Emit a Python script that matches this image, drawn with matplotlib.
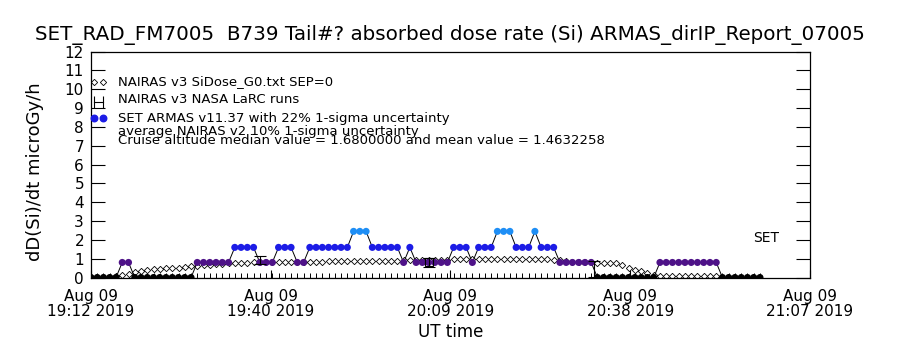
#!/usr/bin/env python3
"""ARMAS vs NAIRAS absorbed dose rate (Si) along a B739 flight, 9 Aug 2019."""

import numpy as np
import pandas as pd
import matplotlib
matplotlib.use("Agg")  # headless
import matplotlib.pyplot as plt

# ---- data --------------------------------------------------------------
start = "2019-08-09 19:12"

# SET ARMAS 1-min dose rate, microGy/h
armas_dose = [
    0.0, 0.0, 0.0, 0.0, 0.0, 0.8, 0.8, 0.0, 0.0, 0.0,
    0.0, 0.0, 0.0, 0.0, 0.0, 0.0, 0.0, 0.8, 0.8, 0.8,
    0.8, 0.8, 0.8, 1.6, 1.6, 1.6, 1.6, 0.8, 0.8, 0.8,
    1.6, 1.6, 1.6, 0.8, 0.8, 1.6, 1.6, 1.6, 1.6, 1.6,
    1.6, 1.6, 2.45, 2.45, 2.45, 1.6, 1.6, 1.6, 1.6, 1.6,
    0.8, 1.6, 0.8, 0.8, 0.8, 0.8, 0.8, 0.8, 1.6, 1.6,
    1.6, 0.8, 1.6, 1.6, 1.6, 2.45, 2.45, 2.45, 1.6, 1.6,
    1.6, 2.45, 1.6, 1.6, 1.6, 0.8, 0.8, 0.8, 0.8, 0.8,
    0.8, 0.0, 0.0, 0.0, 0.0, 0.0, 0.0, 0.0, 0.0, 0.0,
    0.0, 0.8, 0.8, 0.8, 0.8, 0.8, 0.8, 0.8, 0.8, 0.8,
    0.8, 0.0, 0.0, 0.0, 0.0, 0.0, 0.0, 0.0,
]

# NAIRAS v3 SiDose_G0 model, same 1-min cadence
nairas_dose = [
    0.02, 0.02, 0.03, 0.05, 0.07, 0.12, 0.20, 0.28, 0.36, 0.42,
    0.45, 0.47, 0.49, 0.51, 0.53, 0.56, 0.59, 0.62, 0.66, 0.69,
    0.72, 0.74, 0.76, 0.77, 0.78, 0.79, 0.80, 0.80, 0.81, 0.82,
    0.82, 0.83, 0.83, 0.84, 0.84, 0.84, 0.85, 0.85, 0.86, 0.86,
    0.87, 0.87, 0.88, 0.88, 0.88, 0.89, 0.89, 0.90, 0.90, 0.90,
    0.91, 0.92, 0.92, 0.93, 0.93, 0.94, 0.94, 0.95, 0.96, 0.97,
    0.98, 0.98, 0.99, 0.99, 1.00, 1.00, 1.00, 1.00, 1.00, 1.00,
    1.00, 0.99, 0.98, 0.97, 0.94, 0.91, 0.87, 0.85, 0.83, 0.82,
    0.80, 0.78, 0.77, 0.76, 0.75, 0.68, 0.48, 0.40, 0.32, 0.25,
    0.15, 0.07, 0.06, 0.06, 0.06, 0.06, 0.06, 0.06, 0.06, 0.06,
    0.06,
]

# NAIRAS v3 NASA LaRC runs: no values along this flight (drawn on the floor)
larc_dose = [0.0] * len(armas_dose)

# uncertainty markers
ebar_times = ["2019-08-09 19:39:00", "2019-08-09 20:32:30"]
ebar_dose = [0.95, 0.45]
ebar_err = [0.21, 0.43]
box_times = ["2019-08-09 20:06:00"]
box_dose = [0.82]
box_err = [0.24]

xtick_times = ["2019-08-09 19:12:00", "2019-08-09 19:40:45", "2019-08-09 20:09:30",
               "2019-08-09 20:38:15", "2019-08-09 21:07:00"]
xtick_labels = ["Aug 09\n19:12 2019", "Aug 09\n19:40 2019", "Aug 09\n20:09 2019",
                "Aug 09\n20:38 2019", "Aug 09\n21:07 2019"]

legend_lines = [
    "NAIRAS v3 SiDose_G0.txt SEP=0",
    "NAIRAS v3 NASA LaRC runs",
    "SET ARMAS v11.37 with 22% 1-sigma uncertainty",
    "average NAIRAS v2 10% 1-sigma uncertainty",
    "Cruise altitude median value = 1.6800000 and mean value = 1.4632258",
]

title = "SET_RAD_FM7005  B739 Tail#? absorbed dose rate (Si) ARMAS_dirIP_Report_07005"

# ---- colours ------------------------------------------------------------
C_ZERO = "black"
C_LOW = "#4e1288"
C_MID = "#1c1ce6"
C_HIGH = "#1e8ef5"


def level_colour(v):
    if v <= 0.0:
        return C_ZERO
    if v < 1.2:
        return C_LOW
    if v < 2.0:
        return C_MID
    return C_HIGH


t_armas = pd.date_range(start, periods=len(armas_dose), freq="1min")
t_nairas = pd.date_range(start, periods=len(nairas_dose), freq="1min")

fig = plt.figure(figsize=(9, 3.5), dpi=100)
ax = fig.add_axes([0.1011, 0.2071, 0.7989, 0.6457])

# LaRC runs sit on the floor: line with small vertical bars
ax.plot(t_armas, larc_dose, color="black", lw=0.8, ls="-", marker="|",
        ms=7, mew=0.7, zorder=2)

# NAIRAS model: open diamonds
ax.plot(t_nairas, nairas_dose, ls="none", marker="D", ms=3.2, mfc="white",
        mec="black", mew=0.6, zorder=2)

# ARMAS: thin black connecting line + colour-coded dots
ax.plot(t_armas, armas_dose, color="black", lw=0.7, zorder=3)
ax.scatter(t_armas, armas_dose, s=26, c=[level_colour(v) for v in armas_dose],
           edgecolors="none", zorder=4)

# uncertainty bars
ax.errorbar(pd.to_datetime(ebar_times), ebar_dose, yerr=ebar_err, fmt="none",
            ecolor="black", elinewidth=0.8, capsize=4, capthick=0.8, zorder=5)
ax.errorbar(pd.to_datetime(box_times), box_dose, yerr=box_err, fmt="s",
            ms=6, mfc="none", mec="black", mew=0.8, ecolor="black",
            elinewidth=0.8, capsize=4, capthick=0.8, zorder=5)

# axes
ax.set_xlim(pd.Timestamp(xtick_times[0]), pd.Timestamp(xtick_times[-1]))
ax.set_ylim(0, 12)
ax.set_yticks(range(0, 13))
ax.set_xticks(pd.to_datetime(xtick_times))
ax.set_xticklabels(xtick_labels, fontsize=11, linespacing=1.0)
ax.tick_params(axis="y", which="major", direction="in", length=10, width=0.8,
               left=True, right=True, labelsize=11, pad=5)
ax.tick_params(axis="x", which="major", direction="in", length=6, width=0.8,
               top=False, pad=8)
for s in ax.spines.values():
    s.set_linewidth(0.9)

ax.set_ylabel("dD(Si)/dt microGy/h", fontsize=13)
ax.yaxis.set_label_coords(-0.065, 0.467)
ax.set_xlabel("UT time", fontsize=12, labelpad=3)
fig.text(0.5, 0.90, title, ha="center", va="center", fontsize=14.3)

# legend drawn by hand, IDL style
tx = pd.Timestamp("2019-08-09 19:16:20")
ys = [10.4, 9.43, 8.47, 7.75, 7.28]
for y, txt in zip(ys, legend_lines):
    ax.text(tx, y, txt, fontsize=9.5, va="center", ha="left")
sym_t = pd.to_datetime(["2019-08-09 19:12:30", "2019-08-09 19:14:00"])
ax.plot(sym_t, [ys[0], ys[0]], ls="none", marker="D", ms=3.2, mfc="white",
        mec="black", mew=0.6, clip_on=False)
ax.plot(sym_t, [ys[1] - 0.12, ys[1] - 0.12], color="black", lw=0.8,
        marker="|", ms=8, mew=0.8, clip_on=False)
ax.scatter(sym_t, [ys[2], ys[2]], s=22, color=C_MID, clip_on=False, zorder=4)

ax.text(0.939, 2.1, "SET", transform=ax.get_yaxis_transform(), fontsize=10,
        ha="center", va="center")

fig.savefig("out.png", dpi=100)
